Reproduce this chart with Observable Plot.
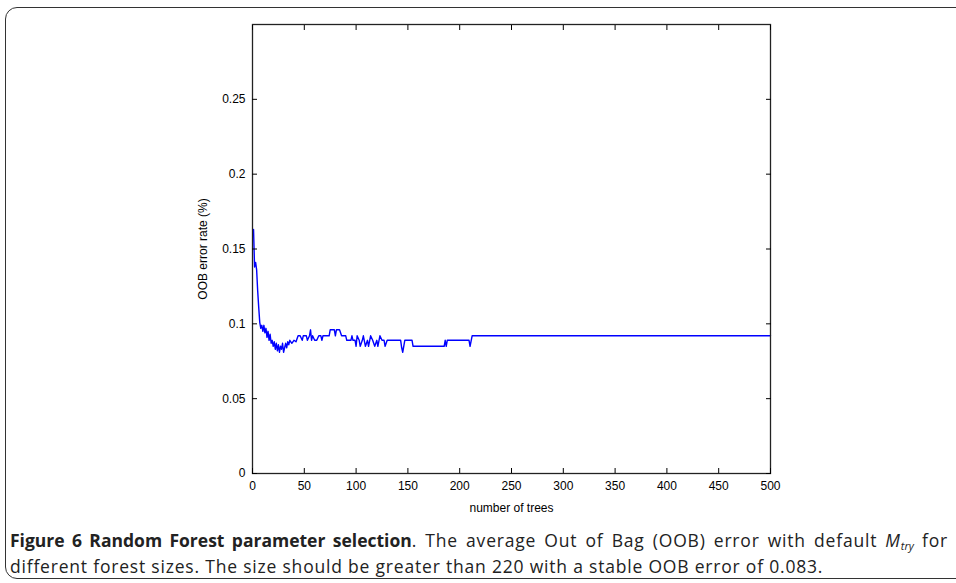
<!DOCTYPE html>
<html>
<head>
<meta charset="utf-8">
<script src="https://cdn.jsdelivr.net/npm/d3@7"></script>
<script src="https://cdn.jsdelivr.net/npm/@observablehq/plot@0.6"></script>
<style>
  html, body { margin: 0; padding: 0; background: #fff; }
  body { width: 956px; height: 583px; position: relative; overflow: hidden; }
  #frame { position: absolute; left: 5px; top: 7px; width: 1000px; height: 570px;
           border: 1.5px solid #333; border-radius: 12px; }
  #chart { position: absolute; left: 0; top: 0; }
  #caption { position: absolute; left: 10px; top: 527px; width: 938px; white-space: nowrap;
             font-family: "Open Sans", sans-serif; font-size: 17.5px; line-height: 26px; color: #222;
             letter-spacing: 0.8px; }
  #caption b { font-weight: 700; letter-spacing: 0; }
  #caption .line { display: block; height: 26px; }
  #caption .just { text-align: justify; text-align-last: justify; }
  #caption sub { font-size: 11px; font-style: italic; line-height: 0; vertical-align: -3px; letter-spacing: 0; }
</style>
</head>
<body>
<div id="frame"></div>
<div id="chart"></div>
<div id="caption"><span class="line just"><b>Figure 6 Random Forest parameter selection</b>. The average Out of Bag (OOB) error with default <i>M</i><sub>try</sub> for</span><span class="line">different forest sizes. The size should be greater than 220 with a stable OOB error of 0.083.</span></div>
<script>
const trees = [1,2,3,4,5,6,7,8,9,10,11,12,13,14,15,16,17,18,19,20,21,22,23,24,25,26,27,28,29,30,31,32,33,34,35,36,38,40,42,44,46,48,49,52,53,55,56,57,58,60,62,64,66,67,68,72,74,75,79,80,81,84,86,90,91,95,96,97,99,100,101,103,104,106,107,109,111,112,114,116,118,120,121,123,125,127,128,130,143,144,145,146,147,154,155,185,186,187,188,209,210,212,500];
const oobError = [0.163,0.138,0.141,0.136,0.122,0.111,0.101,0.097,0.099,0.095,0.099,0.094,0.097,0.091,0.095,0.089,0.093,0.087,0.089,0.085,0.088,0.083,0.087,0.082,0.086,0.081,0.085,0.083,0.087,0.081,0.084,0.087,0.084,0.088,0.086,0.089,0.087,0.089,0.088,0.092,0.092,0.089,0.092,0.092,0.089,0.092,0.096,0.089,0.092,0.089,0.089,0.092,0.092,0.089,0.092,0.092,0.092,0.096,0.096,0.092,0.096,0.096,0.092,0.092,0.089,0.089,0.092,0.089,0.089,0.085,0.092,0.089,0.085,0.089,0.092,0.085,0.089,0.085,0.092,0.089,0.085,0.089,0.085,0.092,0.089,0.089,0.085,0.089,0.089,0.084,0.081,0.085,0.089,0.089,0.085,0.085,0.089,0.085,0.089,0.089,0.085,0.092,0.092];
const xTicks = [0,50,100,150,200,250,300,350,400,450,500];
const yTicks = [0,0.05,0.1,0.15,0.2,0.25];
const xLabel = "number of trees";
const yLabel = "OOB error rate (%)";

const data = trees.map((t, i) => ({trees: t, err: oobError[i]}));
const blank = () => "";

const chart = Plot.plot({
  width: 956,
  height: 520,
  marginLeft: 252,
  marginRight: 186,
  marginTop: 24,
  marginBottom: 47,
  style: {fontFamily: "'Liberation Sans', Arial, sans-serif", fontSize: "13px", color: "#000", background: "transparent"},
  x: {domain: [0, 500], axis: null},
  y: {domain: [0, 0.3], axis: null},
  marks: [
    Plot.line(data, {x: "trees", y: "err", stroke: "#0000ff", strokeWidth: 1.4}),
    Plot.frame({stroke: "#222", strokeWidth: 1.3}),
    Plot.axisX({ticks: xTicks, anchor: "bottom", tickSize: 0, tickPadding: 8, tickFormat: d3.format(""),
                label: xLabel, labelAnchor: "center", labelArrow: "none", labelOffset: 38, fontSize: 12}),
    Plot.axisX({ticks: xTicks, anchor: "bottom", tickSize: -5, tickFormat: blank, label: null}),
    Plot.axisX({ticks: xTicks, anchor: "top", tickSize: -5, tickFormat: blank, label: null}),
    Plot.axisY({ticks: yTicks, anchor: "left", tickSize: 0, tickPadding: 7, tickFormat: d3.format(""),
                label: yLabel, labelAnchor: "center", labelArrow: "none", labelOffset: 54, fontSize: 12}),
    Plot.axisY({ticks: yTicks, anchor: "left", tickSize: -5, tickFormat: blank, label: null}),
    Plot.axisY({ticks: yTicks, anchor: "right", tickSize: -5, tickFormat: blank, label: null})
  ]
});
document.getElementById("chart").appendChild(chart);
</script>
</body>
</html>
